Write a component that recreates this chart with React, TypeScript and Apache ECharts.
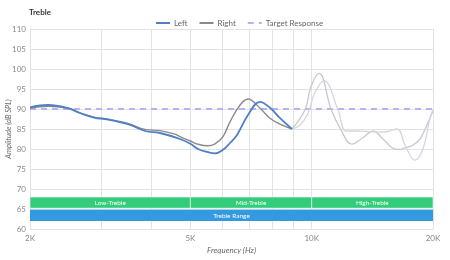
import React, { useEffect, useRef } from "react";
import * as echarts from "echarts";

// ---- data ----
const LEFT_FREQ = [2000, 2216, 2486, 2662, 2898, 3070, 3502, 3858, 4204, 4713, 5000, 5223, 5530, 5755, 6025, 6270, 6527, 6950, 7444, 7881, 8346, 8936];
const LEFT_VAL = [90.4, 91.0, 90.2, 89.0, 87.8, 87.5, 86.2, 84.5, 84.0, 82.5, 81.3, 80.0, 79.2, 78.9, 79.8, 81.5, 83.5, 88.5, 91.8, 90.3, 87.7, 85.0];

const RIGHT_FREQ = [2000, 2216, 2486, 2662, 2898, 3070, 3502, 3858, 4204, 4580, 4713, 5000, 5223, 5530, 5755, 6025, 6270, 6641, 6950, 7444, 7881, 8346, 8936];
const RIGHT_VAL = [90.2, 90.7, 90.2, 89.0, 87.9, 87.6, 86.4, 84.9, 84.6, 83.7, 83.1, 82.0, 81.2, 80.8, 81.3, 83.1, 86.8, 91.0, 92.5, 90.2, 87.7, 86.2, 85.0];

const RIGHT_HI_FREQ = [8936, 9628, 9960, 10440, 11165, 11820, 12590, 13400, 14200, 15030, 15910, 16500, 17040, 17850, 18570, 19220, 20000];
const RIGHT_HI_VAL = [85.0, 89.8, 95.6, 98.9, 90.0, 84.8, 81.2, 82.8, 84.5, 82.5, 80.2, 79.9, 80.3, 81.0, 82.5, 85.5, 89.5];

const LEFT_HI_FREQ = [8936, 9354, 9792, 10175, 10730, 11620, 12160, 12880, 13640, 15030, 16290, 17040, 18040, 18880, 19660, 20000];
const LEFT_HI_VAL = [85.0, 86.0, 88.9, 94.0, 97.1, 89.8, 84.5, 84.5, 84.4, 84.2, 85.0, 81.0, 77.2, 80.0, 87.7, 90.0];

const TARGET_FREQ = [2000, 20000];
const TARGET_VAL = [90, 90];

const X_LABEL_FREQ = [2000, 5000, 10000, 20000];
const X_LABEL_TEXT = ["2K", "5K", "10K", "20K"];
const X_GRID_FREQ = [2000, 3000, 4000, 5000, 6000, 7000, 8000, 9000, 10000, 20000];

const BAND_NAMES = ["Low-Treble", "Mid-Treble", "High-Treble"];
const BAND_EDGES = [2000, 5000, 10000, 20000];
const RANGE_NAME = "Treble Range";

const lx = (f: number) => Math.log10(f);
const pairs = (fs: number[], vs: number[]) => fs.map((f, i) => [lx(f), vs[i]]);

export default function App() {
  const ref = useRef<HTMLDivElement>(null);
  useEffect(() => {
    if (!ref.current) return;
    const chart = echarts.init(ref.current, undefined, { renderer: "svg" });
    const font = "Lato";
    const bandAreas = BAND_NAMES.map((name, i) => [
      { name, xAxis: lx(BAND_EDGES[i]), yAxis: 65.2 },
      { xAxis: lx(BAND_EDGES[i + 1]), yAxis: 68 },
    ]);
    chart.setOption({
      animation: false,
      textStyle: { fontFamily: font },
      title: {
        text: "Treble",
        left: 24,
        top: 3,
        textStyle: { fontSize: 8, fontWeight: "bold", color: "#333", fontFamily: font },
      },
      legend: {
        top: 14,
        left: 150,
        itemWidth: 14,
        itemHeight: 8,
        itemGap: 11,
        itemStyle: { opacity: 0 },
        textStyle: { fontSize: 8, color: "#666", fontFamily: font, padding: [0, 0, 0, -1] },
        data: ["Left", "Right", "Target Response"],
      },
      grid: { left: 30, right: 17, top: 29, bottom: 31, containLabel: false, outerBoundsMode: "none" },
      xAxis: {
        type: "value",
        min: lx(2000),
        max: lx(20000),
        name: "Frequency (Hz)",
        nameLocation: "middle",
        nameGap: 17,
        nameMoveOverlap: false,
        nameTextStyle: { fontSize: 8, fontStyle: "italic", color: "#666", fontFamily: font },
        axisLine: { show: false },
        axisTick: { show: false, customValues: X_GRID_FREQ.map(lx) },
        axisLabel: {
          customValues: X_LABEL_FREQ.map(lx),
          formatter: (v: number) => {
            const i = X_LABEL_FREQ.findIndex((f) => Math.abs(lx(f) - v) < 1e-6);
            return i >= 0 ? X_LABEL_TEXT[i] : "";
          },
          fontSize: 8,
          color: "#888",
          margin: 5,
        },
        splitLine: { show: true, lineStyle: { color: "#e3e3e3", width: 1 } },
      },
      yAxis: {
        type: "value",
        min: 60,
        max: 110,
        interval: 5,
        name: "Amplitude (dB SPL)",
        nameLocation: "middle",
        nameGap: 18,
        nameMoveOverlap: false,
        nameTextStyle: { fontSize: 7.5, fontStyle: "italic", color: "#666", fontFamily: font },
        axisLine: { show: false },
        axisTick: { show: false },
        axisLabel: { fontSize: 8, color: "#888", margin: 4 },
        splitLine: { show: true, lineStyle: { color: "#e3e3e3", width: 1 } },
      },
      series: [
        {
          name: "Target Response",
          type: "line",
          symbol: "none",
          data: pairs(TARGET_FREQ, TARGET_VAL),
          lineStyle: { color: "#b4b4f2", width: 2, type: [6, 5] },
          itemStyle: { color: "#b4b4f2" },
          z: 2,
          markArea: {
            silent: true,
            itemStyle: { color: "#33cc7a", borderColor: "#fff", borderWidth: 0.6 },
            label: { show: true, position: "inside", color: "#fff", fontSize: 6.5, fontFamily: font },
            data: [
              ...bandAreas,
              [
                { name: RANGE_NAME, xAxis: lx(BAND_EDGES[0]), yAxis: 62, itemStyle: { color: "#3399e0", borderWidth: 0 } },
                { xAxis: lx(BAND_EDGES[BAND_EDGES.length - 1]), yAxis: 64.8 },
              ],
            ],
          },
        },
        {
          name: "Right-hi",
          type: "line",
          symbol: "none",
          smooth: 0.4,
          data: pairs(RIGHT_HI_FREQ, RIGHT_HI_VAL),
          lineStyle: { color: "#c8c8c8", width: 1.3 },
          z: 3,
        },
        {
          name: "Left-hi",
          type: "line",
          symbol: "none",
          smooth: 0.4,
          data: pairs(LEFT_HI_FREQ, LEFT_HI_VAL),
          lineStyle: { color: "#d2d6e2", width: 1.3 },
          z: 3,
        },
        {
          name: "Right",
          type: "line",
          symbol: "none",
          smooth: 0.4,
          data: pairs(RIGHT_FREQ, RIGHT_VAL),
          lineStyle: { color: "#8a8a8a", width: 1.4 },
          itemStyle: { color: "#8a8a8a" },
          z: 4,
        },
        {
          name: "Left",
          type: "line",
          symbol: "none",
          smooth: 0.4,
          data: pairs(LEFT_FREQ, LEFT_VAL),
          lineStyle: { color: "#4f7fc8", width: 1.8 },
          itemStyle: { color: "#4f7fc8" },
          z: 5,
        },
      ],
    });
    return () => chart.dispose();
  }, []);
  return <div ref={ref} style={{ position: "fixed", left: 0, top: 0, width: 450, height: 260 }} />;
}
